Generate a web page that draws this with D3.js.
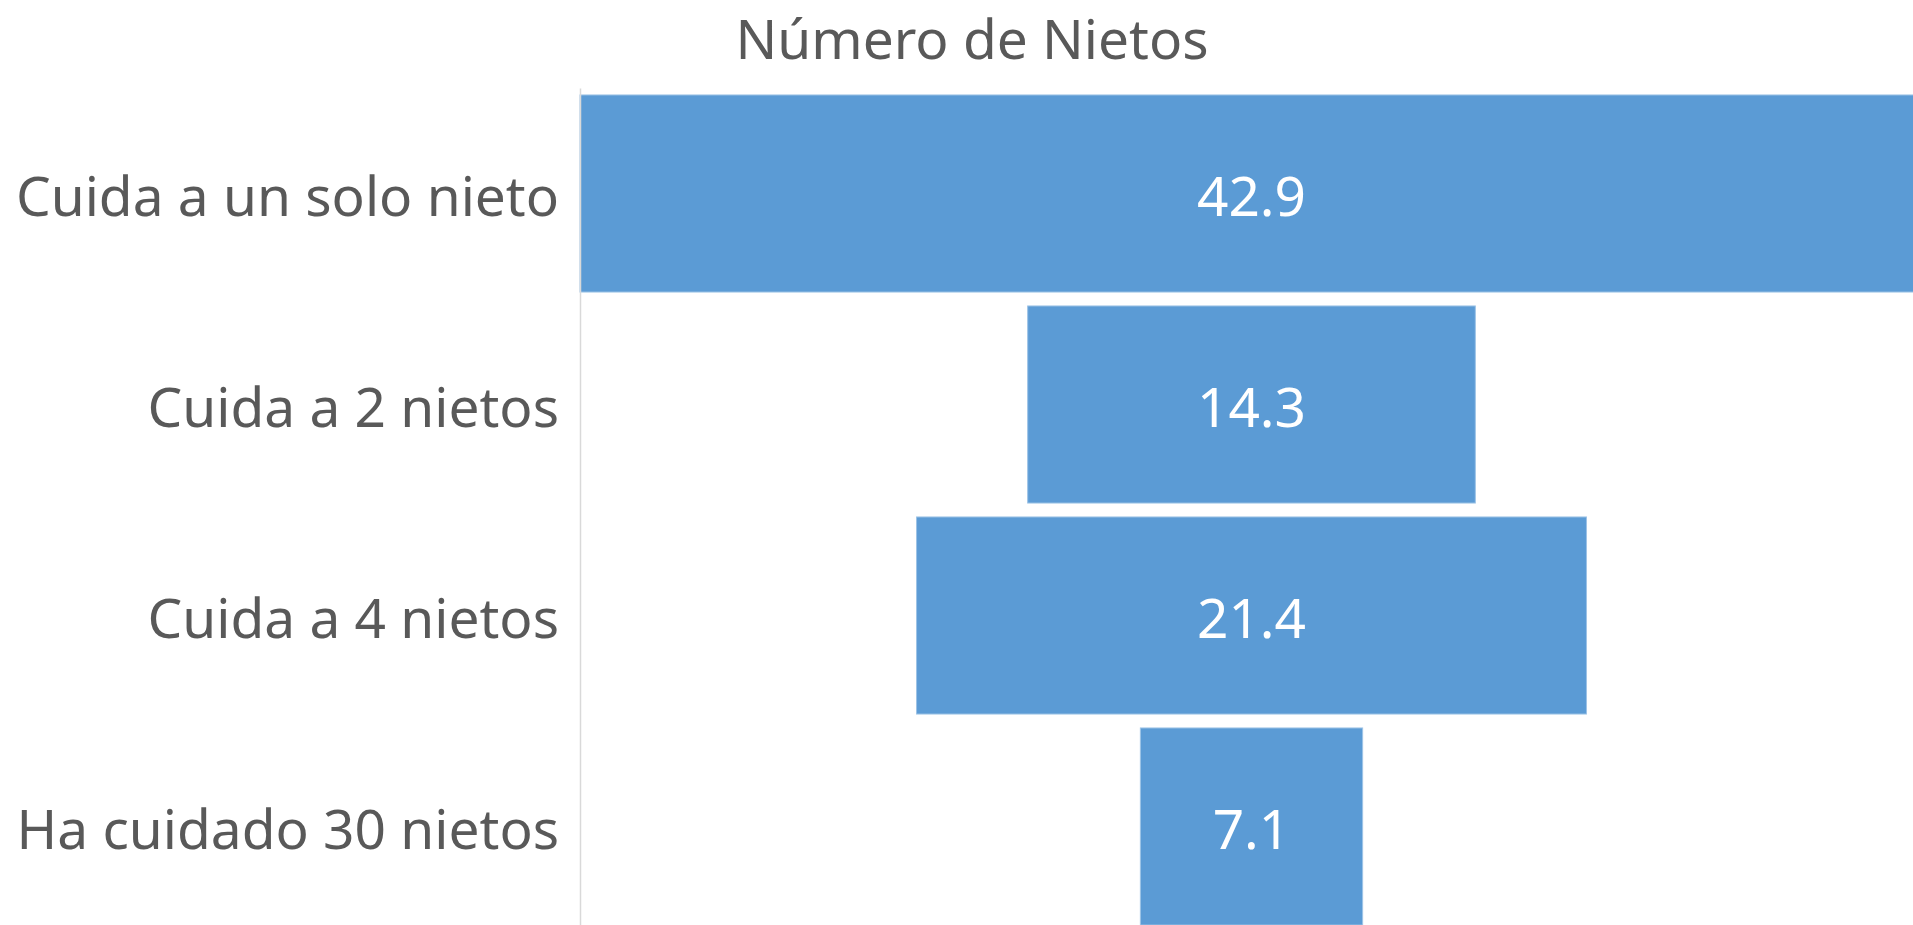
<!DOCTYPE html>
<html>
<head>
<meta charset="utf-8">
<script src="https://cdn.jsdelivr.net/npm/d3@7"></script>
<style>
  body { margin: 0; background: #fff; }
  text { font-family: "Noto Sans", "Open Sans", sans-serif; }
</style>
</head>
<body>
<svg id="chart"></svg>
<script>
var categories = ["Cuida a un solo nieto", "Cuida a 2 nietos", "Cuida a 4 nietos", "Ha cuidado 30 nietos"];
var values = [42.9, 14.3, 21.4, 7.1];
var chartTitle = "Número de Nietos";

var width = 1913, height = 925;
var margins = { top: 88, bottom: -7, left: 580, right: -10 };

var svg = d3.select("#chart")
  .attr("width", width)
  .attr("height", height);

var maxV = d3.max(values);

// funnel: bars centred on zero
var xScale = d3.scaleLinear()
  .domain([-maxV / 2, maxV / 2])
  .range([margins.left, width - margins.right]);

var yScale = d3.scaleBand()
  .domain(categories)
  .range([margins.top, height - margins.bottom])
  .paddingInner(0.066)
  .paddingOuter(0.033);

var data = categories.map(function(c, i) { return { cat: c, v: values[i] }; });

svg.selectAll("rect.bar")
  .data(data)
  .enter()
  .append("rect")
  .attr("class", "bar")
  .attr("x", function(d) { return xScale(-d.v / 2); })
  .attr("width", function(d) { return xScale(d.v / 2) - xScale(-d.v / 2); })
  .attr("y", function(d) { return yScale(d.cat); })
  .attr("height", yScale.bandwidth())
  .attr("fill", "#5b9bd5")
  .attr("stroke", "#9dc3e6")
  .attr("stroke-width", 1);

// category axis
var yAxis = d3.axisLeft(yScale).tickSize(0).tickPadding(21);
var gy = svg.append("g")
  .attr("transform", "translate(" + margins.left + ",0)")
  .call(yAxis);
gy.select(".domain").attr("stroke", "#d9d9d9").attr("stroke-width", 1.5);
gy.selectAll(".tick text")
  .attr("fill", "#595959")
  .style("font-size", "55px")
  .attr("dy", "0.4em");

// value labels
svg.selectAll("text.val")
  .data(data)
  .enter()
  .append("text")
  .attr("class", "val")
  .attr("x", xScale(0))
  .attr("y", function(d) { return yScale(d.cat) + yScale.bandwidth() / 2; })
  .attr("dy", "0.4em")
  .attr("text-anchor", "middle")
  .attr("fill", "#fff")
  .style("font-size", "55px")
  .text(function(d) { return d3.format(".1f")(d.v); });

svg.append("text")
  .attr("x", 972)
  .attr("y", 59)
  .attr("text-anchor", "middle")
  .attr("fill", "#595959")
  .style("font-size", "55px")
  .text(chartTitle);
</script>
</body>
</html>
